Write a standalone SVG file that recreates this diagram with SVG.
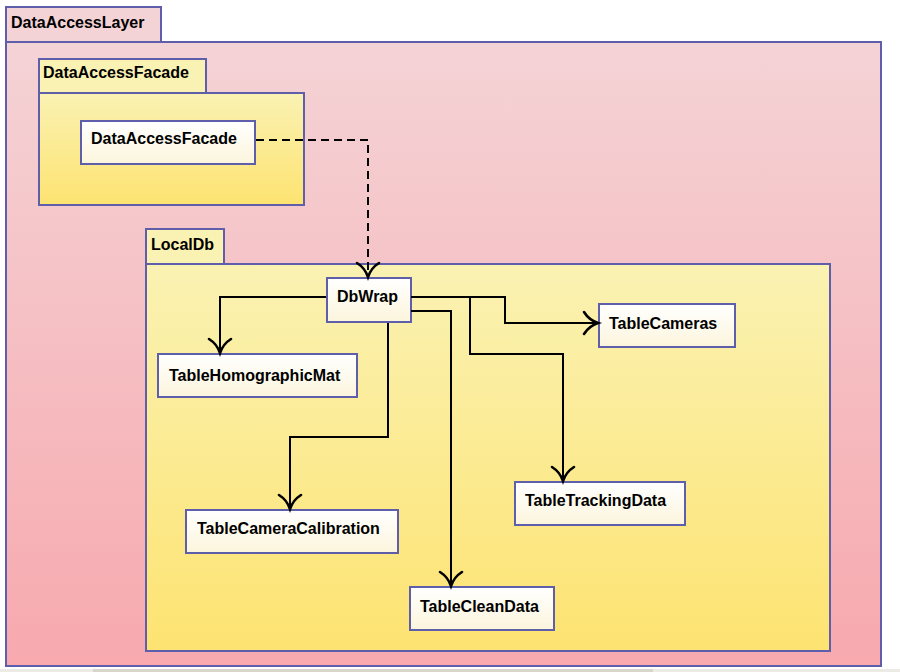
<svg xmlns="http://www.w3.org/2000/svg" width="900" height="672" viewBox="0 0 900 672">
<defs>
<linearGradient id="gPink" x1="0" y1="0" x2="0" y2="1"><stop offset="0" stop-color="#f4d3d6"/><stop offset="1" stop-color="#f7a9ae"/></linearGradient>
<linearGradient id="gYel" x1="0" y1="0" x2="0" y2="1"><stop offset="0" stop-color="#faf2b3"/><stop offset="1" stop-color="#fde371"/></linearGradient>
<linearGradient id="gCls" x1="0" y1="0" x2="0" y2="1"><stop offset="0" stop-color="#ffffff"/><stop offset="1" stop-color="#fcf5dc"/></linearGradient>
<marker id="arr" markerUnits="userSpaceOnUse" markerWidth="30" markerHeight="30" viewBox="-16 -15 20 30" refX="0" refY="0" orient="auto">
<path d="M-14,-11 Q-9,-3 0,0 Q-9,3 -14,11" fill="none" stroke="#000" stroke-width="2.6" stroke-linecap="round"/>
</marker>
<style>
.pkP{fill:url(#gPink);stroke:#5e5eaa;stroke-width:2}
.tP{fill:#f4d3d6;stroke:#5e5eaa;stroke-width:2}
.pkY{fill:url(#gYel);stroke:#5e5eaa;stroke-width:2}
.tY{fill:#faf2b3;stroke:#5e5eaa;stroke-width:2}
.cls{fill:url(#gCls);stroke:#5e5eaa;stroke-width:2}
text{font-family:"Liberation Sans",Arial,sans-serif;font-weight:bold;font-size:16px;fill:#000}
.c{fill:none;stroke:#000;stroke-width:2;marker-end:url(#arr)}
.d{stroke-dasharray:8,5}
</style>
</defs>
<rect x="0" y="669" width="900" height="3" fill="#ecebe6"/>
<rect x="93" y="669" width="560" height="3" fill="#d8d5cd"/>
<g id="DataAccessLayer">
<rect class="tP" x="6" y="7" width="155" height="35"/>
<rect class="pkP" x="6" y="42" width="875" height="624"/>
<text x="11" y="28">DataAccessLayer</text>
</g>
<g id="pkgDataAccessFacade">
<rect class="tY" x="39" y="59" width="167" height="34"/>
<rect class="pkY" x="39" y="93" width="265" height="112"/>
<text x="43" y="78">DataAccessFacade</text>
</g>
<g id="LocalDb">
<rect class="tY" x="146" y="229" width="78" height="35"/>
<rect class="pkY" x="146" y="264" width="684" height="387"/>
<text x="151" y="250">LocalDb</text>
</g>
<g id="DataAccessFacade">
<rect class="cls" x="81" y="121" width="174" height="43"/>
<text x="91" y="144">DataAccessFacade</text>
</g>
<g id="DbWrap">
<rect class="cls" x="327" y="278" width="84" height="44"/>
<text x="337" y="302">DbWrap</text>
</g>
<g id="TableHomographicMat">
<rect class="cls" x="158" y="354" width="199" height="43"/>
<text x="169" y="381">TableHomographicMat</text>
</g>
<g id="TableCameras">
<rect class="cls" x="599" y="304" width="136" height="43"/>
<text x="609" y="329">TableCameras</text>
</g>
<g id="TableTrackingData">
<rect class="cls" x="515" y="482" width="170" height="43"/>
<text x="525" y="506">TableTrackingData</text>
</g>
<g id="TableCameraCalibration">
<rect class="cls" x="186" y="510" width="212" height="43"/>
<text x="197" y="534">TableCameraCalibration</text>
</g>
<g id="TableCleanData">
<rect class="cls" x="410" y="587" width="144" height="43"/>
<text x="420" y="612">TableCleanData</text>
</g>
<g id="connectors">
<path class="c d" d="M256,140 H368 V277"/>
<path class="c" d="M326,297 H220 V353"/>
<path class="c" d="M411,297 H505 V323 H598"/>
<path class="c" d="M470,297 V354 H563 V481"/>
<path class="c" d="M411,311 H451 V586"/>
<path class="c" d="M388,323 V437 H290 V509"/>
</g>
</svg>
